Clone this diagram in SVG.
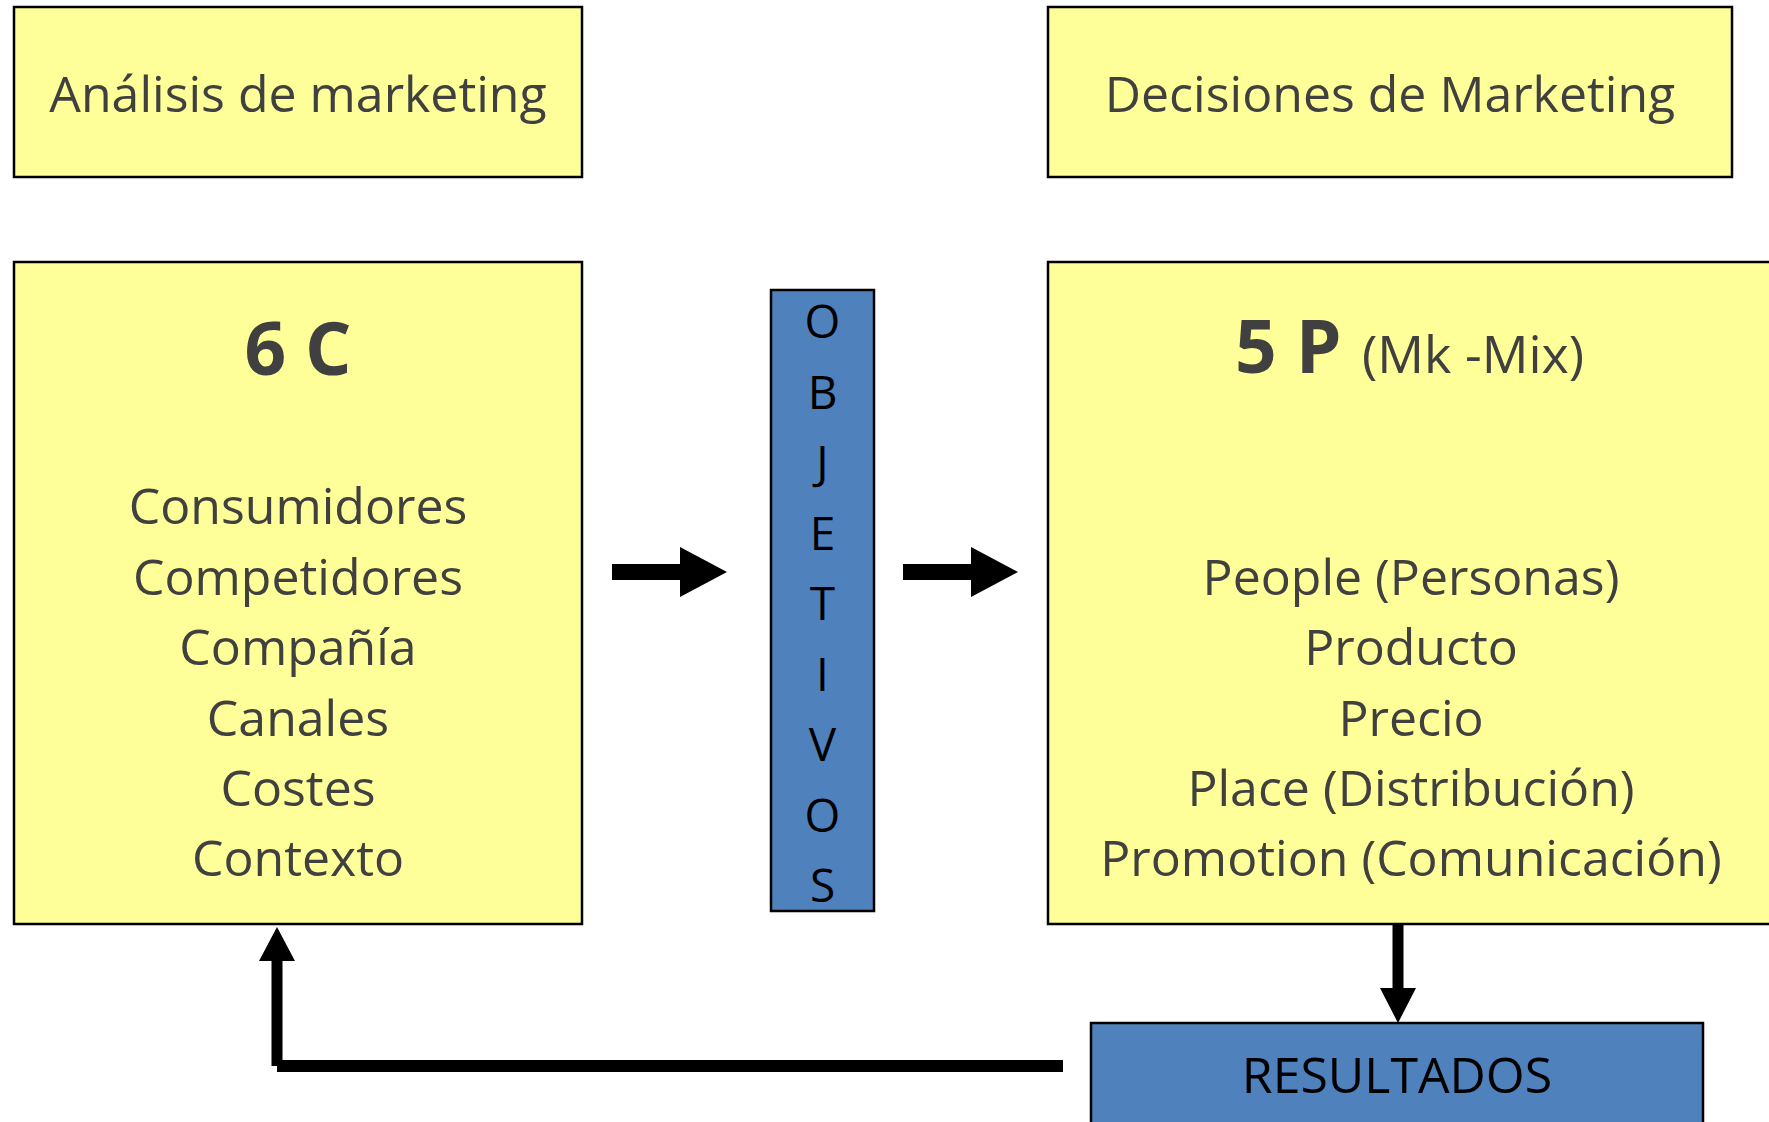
<svg xmlns="http://www.w3.org/2000/svg" width="1769" height="1122" viewBox="0 0 1769 1122">
<style>
.y{fill:#FFFF99;stroke:#000;stroke-width:2.5}
.b{fill:#4F81BD;stroke:#000;stroke-width:2.5}
.t{font-family:"Open Sans","Noto Sans",sans-serif;font-size:50px;fill:#404040;text-anchor:middle}
.h{font-family:"Open Sans","Noto Sans",sans-serif;font-weight:bold;font-size:73px;fill:#404040}
.k{font-family:"Open Sans","Noto Sans",sans-serif;font-size:46px;fill:#000;text-anchor:middle}
.c{fill:#000;stroke:none}
</style>
<rect width="1769" height="1122" fill="#fff"/>
<g id="analisis">
<rect class="y" x="14" y="7" width="568" height="170"/>
<text class="t" x="298" y="112">Análisis de marketing</text>
</g>
<g id="decisiones">
<rect class="y" x="1048" y="7" width="684" height="170"/>
<text class="t" x="1390" y="112">Decisiones de Marketing</text>
</g>
<g id="seisC">
<rect class="y" x="14" y="262" width="568" height="662"/>
<text class="h" x="298" y="375" text-anchor="middle">6 C</text>
<text class="t" x="298" y="524">Consumidores</text>
<text class="t" x="298" y="595">Competidores</text>
<text class="t" x="298" y="665">Compañía</text>
<text class="t" x="298" y="736">Canales</text>
<text class="t" x="298" y="806">Costes</text>
<text class="t" x="298" y="876">Contexto</text>
</g>
<g id="objetivos">
<rect class="b" x="771" y="290" width="103" height="621"/>
<text class="k" x="822.5" y="338">O</text>
<text class="k" x="822.5" y="408.5">B</text>
<text class="k" x="822.5" y="479">J</text>
<text class="k" x="822.5" y="549.5">E</text>
<text class="k" x="822.5" y="620">T</text>
<text class="k" x="822.5" y="690.5">I</text>
<text class="k" x="822.5" y="761">V</text>
<text class="k" x="822.5" y="831.5">O</text>
<text class="k" x="822.5" y="902">S</text>
</g>
<g id="cincoP">
<rect class="y" x="1048" y="262" width="730" height="662"/>
<text x="1235" y="373"><tspan class="h">5 P</tspan><tspan class="t" x="1362" style="text-anchor:start;font-size:52px">(Mk -Mix)</tspan></text>
<text class="t" x="1411" y="595">People (Personas)</text>
<text class="t" x="1411" y="665">Producto</text>
<text class="t" x="1411" y="736">Precio</text>
<text class="t" x="1411" y="806">Place (Distribución)</text>
<text class="t" x="1411" y="876">Promotion (Comunicación)</text>
</g>
<g id="resultados">
<rect class="b" x="1091" y="1023" width="612" height="110"/>
<text class="k" x="1397" y="1093" style="font-size:50px">RESULTADOS</text>
</g>
<g id="connectors">
<polygon class="c" points="612,564 680,564 680,547 727,572 680,597 680,580 612,580"/>
<polygon class="c" points="903,564 971,564 971,547 1018,572 971,597 971,580 903,580"/>
<polygon class="c" points="1392.5,925 1403.5,925 1403.5,988 1416,988 1398,1023 1380,988 1392.5,988"/>
<polygon class="c" points="1063,1060 1063,1072 277,1072 277,1066 271.5,1066 271.5,961 259,961 277,927 295,961 282.5,961 282.5,1060"/>
</g>
</svg>
